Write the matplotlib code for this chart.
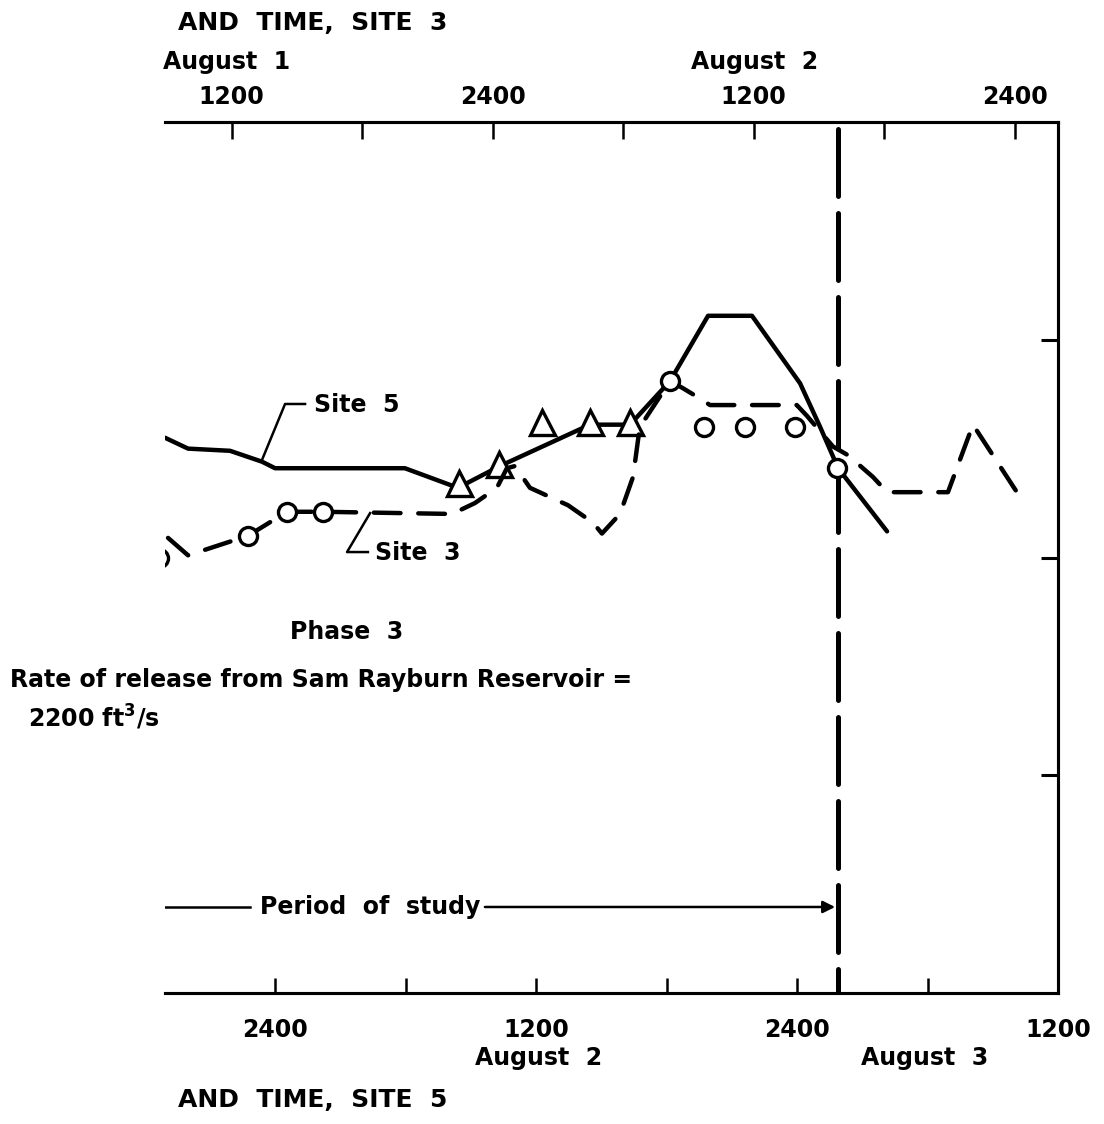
import matplotlib
matplotlib.use("Agg")
import matplotlib.pyplot as plt

# times in hours from 0000 August 1; site 5 on the bottom axis, site 3 on the top axis
site5_hours = [18.94, 20.0, 21.93, 23.4, 24.0, 29.97, 32.41, 34.34, 38.48, 40.32,
               42.16, 43.91, 45.93, 48.14, 49.06, 49.89, 52.14]
site5_vals = [2.55, 2.50, 2.49, 2.44, 2.41, 2.41, 2.32, 2.42, 2.61, 2.61,
              2.81, 3.11, 3.11, 2.80, 2.60, 2.41, 2.12]
site5_obs_hours = [32.46, 34.30, 36.27, 38.48, 40.32]
site5_obs_vals = [2.34, 2.43, 2.62, 2.62, 2.62]

site3_hours = [9.08, 10.0, 12.76, 14.55, 16.2, 22.14, 23.19, 24.2, 24.66, 25.03,
               25.72, 27.47, 28.62, 29.03, 29.86, 30.46, 30.69, 30.78, 32.16, 32.71,
               33.54, 34.0, 37.99, 38.46, 39.65, 40.34, 41.49, 42.14, 44.94, 46.09, 48.11]
site3_vals = [2.09, 2.01, 2.10, 2.21, 2.21, 2.20, 2.25, 2.32, 2.41, 2.42,
              2.32, 2.24, 2.16, 2.11, 2.20, 2.37, 2.54, 2.60, 2.81, 2.78,
              2.73, 2.70, 2.70, 2.65, 2.51, 2.47, 2.37, 2.30, 2.30, 2.61, 2.30]
site3_obs_hours = [8.66, 12.76, 14.55, 16.2, 32.16, 33.72, 35.61, 37.91, 39.84]
site3_obs_vals = [2.00, 2.10, 2.21, 2.21, 2.81, 2.60, 2.60, 2.60, 2.41]

lag = 10.0          # site 3 time = site 5 time - lag
study_end = 49.9    # site 5 hours

bottom_ticks = [24, 30, 36, 42, 48, 54, 60]
bottom_labels = ["2400", "", "1200", "", "2400", "", "1200"]
top_ticks = [12, 18, 24, 30, 36, 42, 48]
top_labels = ["1200", "", "2400", "", "1200", "", "2400"]

FONT = "DejaVu Sans"
FS = 17

fig = plt.figure(figsize=(11.04, 11.24), dpi=100)
ax = fig.add_axes([165 / 1104, 131 / 1124, 893 / 1104, 871 / 1124])
ax.set_xlim(18.94, 60)
ax.set_ylim(0, 4)
top = ax.twiny()
top.set_xlim(18.94 - lag, 60 - lag)

for a in (ax, top):
    a.spines["left"].set_visible(False)
    for s in ("top", "bottom", "right"):
        a.spines[s].set_linewidth(2.2)

ax.set_xticks(bottom_ticks)
ax.set_xticklabels(bottom_labels, fontsize=FS, fontweight="bold", family=FONT)
ax.tick_params(axis="x", direction="in", length=11, width=1.8, pad=18)
ax.set_yticks([1, 2, 3])
ax.yaxis.tick_right()
ax.tick_params(axis="y", direction="in", length=12, width=2.2, labelright=False, labelleft=False)

top.set_xticks(top_ticks)
top.set_xticklabels(top_labels, fontsize=FS, fontweight="bold", family=FONT)
top.tick_params(axis="x", direction="in", length=12, width=1.8, pad=9)

# curves
ax.plot(site5_hours, site5_vals, color="black", lw=3.2, solid_capstyle="round", zorder=3)
top.plot(site3_hours, site3_vals, color="black", lw=3.2, linestyle=(0, (6, 4)),
         dash_capstyle="round", zorder=3)
ax.plot(site5_obs_hours, site5_obs_vals, linestyle="none", marker="^", ms=18,
        mfc="white", mec="black", mew=2.4, zorder=4)
top.plot(site3_obs_hours, site3_obs_vals, linestyle="none", marker="o", ms=13,
         mfc="white", mec="black", mew=2.4, zorder=4)

# end of study period
ax.plot([study_end, study_end], [3.97, 0.0], color="black", lw=3.6,
        linestyle=(0, (13.4, 3.4)), dash_capstyle="round", zorder=2)

# curve labels with leaders
ax.plot([25.38, 24.46, 23.4], [2.705, 2.705, 2.448], color="black", lw=1.8)
ax.text(25.8, 2.70, "Site  5", fontsize=FS, fontweight="bold", family=FONT, va="center")
ax.plot([28.37, 27.31, 28.27], [2.204, 2.025, 2.025], color="black", lw=1.8)
ax.text(28.6, 2.02, "Site  3", fontsize=FS, fontweight="bold", family=FONT, va="center")

# period of study arrow
ax.plot([18.94, 22.85], [0.395, 0.395], color="black", lw=1.8)
ax.text(23.3, 0.395, "Period  of  study", fontsize=FS, fontweight="bold", family=FONT,
        va="center")
ax.annotate("", xy=(49.75, 0.395), xytext=(33.65, 0.395),
            arrowprops=dict(arrowstyle="-|>", color="black", lw=1.8,
                            mutation_scale=18, shrinkA=0, shrinkB=0))

# texts around the frame
fig.text(178 / 1104, 1 - 23 / 1124, "AND  TIME,  SITE  3", fontsize=18, fontweight="bold",
         family=FONT, va="center")
fig.text(163 / 1104, 1 - 62 / 1124, "August  1", fontsize=FS, fontweight="bold",
         family=FONT, va="center")
fig.text(755 / 1104, 1 - 62 / 1124, "August  2", fontsize=FS, fontweight="bold",
         family=FONT, va="center", ha="center")
fig.text(539 / 1104, 1 - 1058 / 1124, "August  2", fontsize=FS, fontweight="bold",
         family=FONT, va="center", ha="center")
fig.text(925 / 1104, 1 - 1058 / 1124, "August  3", fontsize=FS, fontweight="bold",
         family=FONT, va="center", ha="center")
fig.text(178 / 1104, 1 - 1100 / 1124, "AND  TIME,  SITE  5", fontsize=18, fontweight="bold",
         family=FONT, va="center")
fig.text(290 / 1104, 1 - 632 / 1124, "Phase  3", fontsize=FS, fontweight="bold",
         family=FONT, va="center")
fig.text(10 / 1104, 1 - 680 / 1124, "Rate of release from Sam Rayburn Reservoir =",
         fontsize=FS, fontweight="bold", family=FONT, va="center")
fig.text(28 / 1104, 1 - 718 / 1124, r"2200 ft$^{\mathbf{3}}$/s", fontsize=FS,
         fontweight="bold", family=FONT, va="center")

fig.savefig("out.png", dpi=100)
